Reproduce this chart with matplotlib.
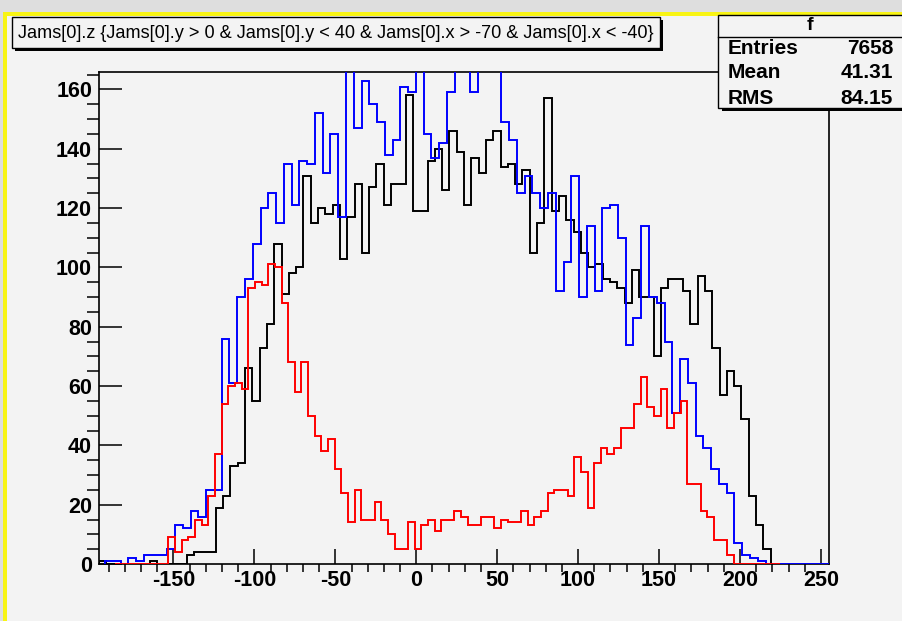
import numpy as np
import matplotlib
matplotlib.use("Agg")
import matplotlib.pyplot as plt
from matplotlib.patches import Rectangle
from matplotlib.lines import Line2D
from matplotlib import font_manager as fm

# ---------------- data ----------------
# black histogram "f": 100 bins from -196 to 255
black_range = (-196.0, 255.0)
black_counts = [1, 0, 0, 0, 0, 0, 0, 1, 0, 0,
                0, 0, 3, 4, 4, 4, 19, 23, 33, 34,
                66, 55, 73, 81, 108, 91, 98, 100, 131, 115,
                120, 118, 121, 103, 117, 128, 105, 127, 135, 121,
                128, 128, 158, 119, 119, 136, 140, 126, 146, 139,
                121, 137, 132, 143, 146, 134, 135, 128, 133, 105,
                115, 157, 119, 124, 116, 112, 105, 100, 101, 96,
                95, 93, 88, 99, 90, 90, 70, 93, 96, 96,
                92, 81, 97, 92, 73, 57, 65, 60, 49, 23,
                13, 5, 0, 0, 0, 0, 0, 0, 0, 0]

# blue histogram: 100 bins from -192.2 to 287.8
blue_range = (-192.2, 287.8)
blue_counts = [1, 1, 0, 2, 1, 3, 3, 3, 5, 13,
               12, 18, 16, 25, 25, 76, 61, 90, 96, 108,
               120, 125, 115, 135, 121, 136, 135, 152, 132, 145,
               117, 172, 147, 163, 155, 149, 138, 143, 161, 159,
               170, 145, 137, 142, 159, 175, 168, 159, 170, 176,
               171, 149, 143, 125, 131, 125, 120, 125, 92, 102,
               131, 90, 114, 92, 120, 121, 110, 74, 83, 114,
               90, 88, 75, 51, 69, 61, 43, 39, 32, 27,
               24, 7, 3, 2, 1, 0, 0, 0, 0, 0,
               0, 0, 0, 0, 0, 0, 0, 0, 0, 0]

# red histogram: 100 bins from -186 to 225
red_range = (-186.0, 225.0)
red_counts = [0, 0, 0, 0, 0, 0, 0, 0, 9, 4,
              8, 9, 15, 13, 23, 37, 54, 60, 61, 59,
              93, 95, 94, 101, 100, 88, 68, 58, 68, 50,
              43, 38, 42, 32, 24, 14, 25, 15, 15, 21,
              15, 10, 5, 5, 14, 5, 13, 15, 11, 15,
              15, 18, 16, 13, 13, 16, 16, 12, 15, 14,
              14, 18, 13, 16, 18, 24, 25, 25, 23, 36,
              31, 19, 34, 39, 37, 39, 46, 46, 54, 63,
              53, 50, 59, 46, 51, 55, 27, 27, 18, 16,
              8, 8, 3, 0, 0, 0, 0, 0, 0, 0]

title_text = "Jams[0].z {Jams[0].y > 0 & Jams[0].y < 40 & Jams[0].x > -70 & Jams[0].x < -40}"
stats_name = "f"
stats_labels = ["Entries", "Mean", "RMS"]
stats_values = ["7658", "41.31", "84.15"]
x_ticks = [-150, -100, -50, 0, 50, 100, 150, 200, 250]
y_ticks = [0, 20, 40, 60, 80, 100, 120, 140, 160]

# ---------------- figure ----------------
W, H = 902, 621
names = {f.name for f in fm.fontManager.ttflist}
BOLD = 'Liberation Sans' if 'Liberation Sans' in names else 'DejaVu Sans'
NARROW = 'Liberation Sans Narrow' if 'Liberation Sans Narrow' in names else BOLD

BG = '#f3f3f3'
fig = plt.figure(figsize=(W / 100, H / 100), dpi=100)
fig.patch.set_facecolor(BG)


def fx(x):
    return x / W


def fy(y):
    return 1 - y / H


def prect(x0, y0, x1, y1, **kw):
    r = Rectangle((fx(x0), fy(y1)), fx(x1) - fx(x0), fy(y0) - fy(y1),
                  transform=fig.transFigure, **kw)
    fig.add_artist(r)
    return r


# blurred surroundings + yellow highlight border
prect(0, 0, W, 13, facecolor='#dedede', edgecolor='none', zorder=0)
prect(0, 0, 4, H, facecolor='#dedede', edgecolor='none', zorder=0)
prect(3, 12, W, 16, facecolor='#f8f414', edgecolor='none', zorder=1)
prect(3, 12, 7, H, facecolor='#f8f414', edgecolor='none', zorder=1)

# ---------------- axes ----------------
L, R, T, B = 99, 829, 72, 564
ax = fig.add_axes([fx(L), fy(B), fx(R) - fx(L), fy(T) - fy(B)])
ax.set_facecolor(BG)
ax.set_xlim(black_range)
ax.set_ylim(0, max(black_counts) * 1.05)

be = np.linspace(black_range[0], black_range[1], len(black_counts) + 1)
bl = np.linspace(blue_range[0], blue_range[1], len(blue_counts) + 1)
re = np.linspace(red_range[0], red_range[1], len(red_counts) + 1)
ax.stairs(black_counts, be, color='black', lw=1.4, zorder=3)
ax.stairs(blue_counts, bl, color='#0000ff', lw=1.4, zorder=4)
ax.stairs(red_counts, re, color='#ff0000', lw=1.4, zorder=5)

ax.set_xticks(x_ticks)
ax.set_xticks(np.arange(-190, 256, 10), minor=True)
ax.set_yticks(y_ticks)
ax.set_yticks(np.arange(0, 166, 5), minor=True)
ax.set_xticklabels([str(v) for v in x_ticks])
ax.set_yticklabels([str(v) for v in y_ticks])

ax.tick_params(top=False, right=False, direction='in', color='black')
ax.tick_params(axis='y', which='major', length=16.5, width=1.1, pad=5)
ax.tick_params(axis='y', which='minor', length=8.5, width=1.1)
ax.tick_params(axis='x', which='major', length=10.8, width=1.1, pad=4)
ax.tick_params(axis='x', which='minor', length=5.8, width=1.1)
for lab in ax.get_xticklabels() + ax.get_yticklabels():
    lab.set_fontfamily(BOLD)
    lab.set_fontweight('bold')
    lab.set_fontsize(15.5)
for sp in ax.spines.values():
    sp.set_linewidth(1.2)
    sp.set_color('black')

# ---------------- title pave ----------------
prect(15, 20, 663, 51, facecolor='black', edgecolor='none', zorder=6)
prect(12, 17, 660, 48, facecolor=BG, edgecolor='black', lw=1.0, zorder=7)
t = fig.text(fx(18), fy(33), title_text, ha='left', va='center',
             fontfamily=NARROW, fontsize=11, zorder=8)
fig.canvas.draw()
bb = t.get_window_extent(fig.canvas.get_renderer())
t.set_fontsize(11 * 634 / bb.width)

# ---------------- stats box ----------------
prect(722, 19, W + 5, 111, facecolor='black', edgecolor='none', zorder=6)
prect(718, 15, W + 5, 108, facecolor=BG, edgecolor='black', lw=1.0, zorder=7)
fig.add_artist(Line2D([fx(718), fx(W)], [fy(37), fy(37)], transform=fig.transFigure,
                      color='black', lw=1.0, zorder=8))
fig.text(fx(810), fy(25), stats_name, ha='center', va='center', fontfamily=BOLD,
         fontweight='bold', fontsize=14, zorder=8)
for i, (lab, val) in enumerate(zip(stats_labels, stats_values)):
    yy = 48 + i * 25
    fig.text(fx(728), fy(yy), lab, ha='left', va='center', fontfamily=BOLD,
             fontweight='bold', fontsize=15, zorder=8)
    fig.text(fx(893), fy(yy), val, ha='right', va='center', fontfamily=BOLD,
             fontweight='bold', fontsize=15, zorder=8)

fig.savefig('out.png', dpi=100, facecolor=fig.get_facecolor())
